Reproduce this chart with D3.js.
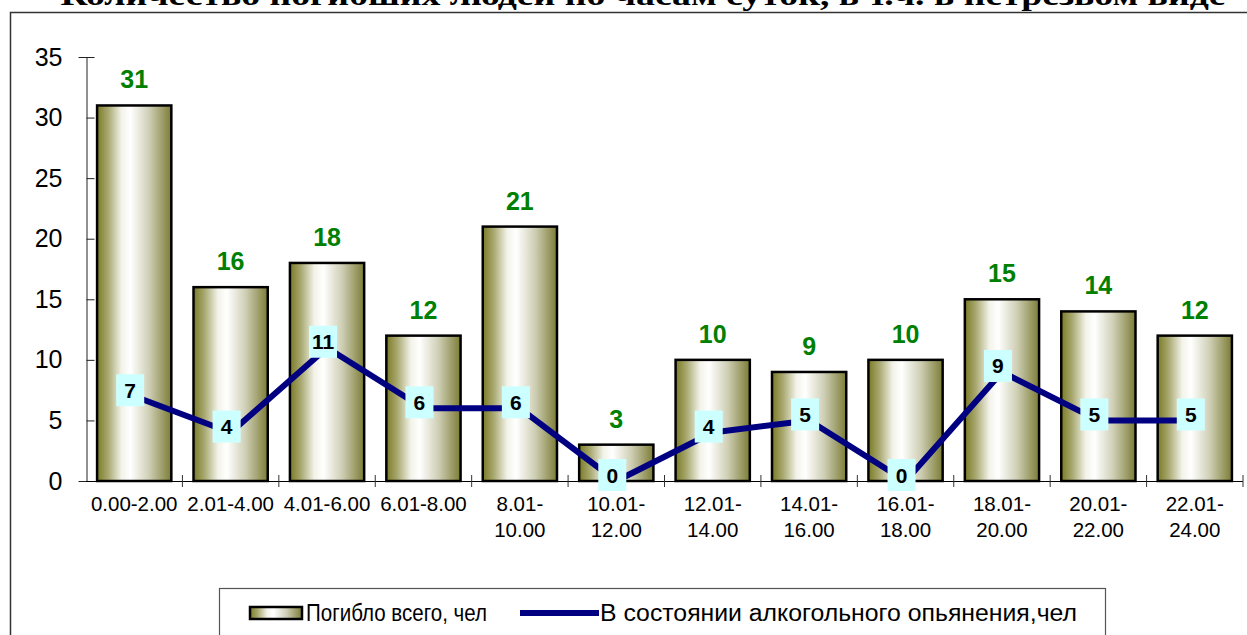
<!DOCTYPE html>
<html>
<head>
<meta charset="utf-8">
<script src="https://cdn.jsdelivr.net/npm/d3@7"></script>
<style>
  body { margin: 0; background: #fff; }
  svg { display: block; }
</style>
</head>
<body>
<svg id="chart" width="1247" height="635"></svg>
<script>
const periods = ["0.00-2.00", "2.01-4.00", "4.01-6.00", "6.01-8.00", "8.01-\n10.00", "10.01-\n12.00",
  "12.01-\n14.00", "14.01-\n16.00", "16.01-\n18.00", "18.01-\n20.00", "20.01-\n22.00", "22.01-\n24.00"];
const totalDead = [31, 16, 18, 12, 21, 3, 10, 9, 10, 15, 14, 12];
const drunkDead = [7, 4, 11, 6, 6, 0, 4, 5, 0, 9, 5, 5];
const yTicks = [0, 5, 10, 15, 20, 25, 30, 35];
const seriesNames = ["Погибло всего, чел", "В состоянии алкогольного опьянения,чел"];
const title = "Количество погибших людей по часам суток, в т.ч. в нетрезвом виде";

const svg = d3.select("#chart");

const defs = svg.append("defs");
const grad = defs.append("linearGradient").attr("id", "barGrad")
  .attr("x1", "0%").attr("x2", "100%").attr("y1", "0%").attr("y2", "0%");
[[0, "#7b7b26"], [0.15, "#a9a972"], [0.33, "#f3f3ea"], [0.45, "#ffffff"],
 [0.7, "#cfcfb6"], [1, "#7c7c36"]].forEach(s => {
  grad.append("stop").attr("offset", s[0]).attr("stop-color", s[1]);
});

// title, cut by the top edge like in the original
svg.append("text")
  .attr("x", 643).attr("y", 5)
  .attr("text-anchor", "middle")
  .attr("font-family", "Liberation Serif, Times New Roman, serif")
  .attr("font-weight", "bold")
  .attr("font-size", 30)
  .attr("textLength", 1165)
  .attr("lengthAdjust", "spacingAndGlyphs")
  .text(title);

// outer frame
svg.append("rect")
  .attr("x", 10.5).attr("y", 12.5).attr("width", 1260).attr("height", 700)
  .attr("fill", "none").attr("stroke", "#333").attr("stroke-width", 1.5);

const x = d3.scaleBand().domain(periods).range([86, 1243]).paddingInner(0.23).paddingOuter(0.115);
const y = d3.scaleLinear().domain([0, 35]).range([481, 57]);

// y axis
const yAxis = svg.append("g").attr("transform", "translate(86.5,0)")
  .call(d3.axisLeft(y).tickValues(yTicks).tickSize(8).tickPadding(16));
yAxis.select(".domain").attr("stroke", "#222");
yAxis.selectAll(".tick line").attr("x2", 8).attr("stroke", "#222");
yAxis.selectAll(".tick text")
  .attr("font-family", "Liberation Sans, Arial, sans-serif")
  .attr("font-size", 25).attr("fill", "#000");

// bars
svg.append("g").selectAll("rect")
  .data(totalDead)
  .join("rect")
  .attr("x", (d, i) => x(periods[i]))
  .attr("y", d => y(d))
  .attr("width", x.bandwidth())
  .attr("height", d => y(0) - y(d))
  .attr("fill", "url(#barGrad)")
  .attr("stroke", "#000")
  .attr("stroke-width", 2.5);

// x axis
svg.append("line")
  .attr("x1", 86).attr("x2", 1243).attr("y1", 481.5).attr("y2", 481.5)
  .attr("stroke", "#000");
const bounds = periods.map((p, i) => x.range()[0] + i * x.step()).concat([x.range()[1]]);
svg.append("g").selectAll("line")
  .data(bounds.slice(1))
  .join("line")
  .attr("x1", d => d).attr("x2", d => d)
  .attr("y1", 475).attr("y2", 487)
  .attr("stroke", "#333");

const xLabels = svg.append("g").selectAll("text")
  .data(periods)
  .join("text")
  .attr("x", d => x(d) + x.bandwidth() / 2)
  .attr("y", 511)
  .attr("text-anchor", "middle")
  .attr("font-family", "Liberation Sans, Arial, sans-serif")
  .attr("font-size", 20.5)
  .attr("fill", "#000");
xLabels.each(function (d) {
  const t = d3.select(this);
  d.split("\n").forEach((ln, k) => {
    t.append("tspan").attr("x", x(d) + x.bandwidth() / 2).attr("dy", k === 0 ? 0 : 26).text(ln);
  });
});

// bar value labels
svg.append("g").selectAll("text")
  .data(totalDead)
  .join("text")
  .attr("x", (d, i) => x(periods[i]) + x.bandwidth() / 2)
  .attr("y", d => y(d) - 17)
  .attr("text-anchor", "middle")
  .attr("font-family", "Liberation Sans, Arial, sans-serif")
  .attr("font-weight", "bold")
  .attr("font-size", 25)
  .attr("fill", "#008000")
  .text(d => d);

// line series
const line = d3.line()
  .x((d, i) => x(periods[i]) + x.bandwidth() / 2)
  .y(d => y(d));
svg.append("path")
  .datum(drunkDead)
  .attr("d", line)
  .attr("fill", "none")
  .attr("stroke", "#000080")
  .attr("stroke-width", 6)
  .attr("stroke-linejoin", "round");

const pts = svg.append("g").selectAll("g")
  .data(drunkDead)
  .join("g")
  .attr("transform", (d, i) => `translate(${x(periods[i]) + x.bandwidth() / 2 - 4},${y(d) - 6})`);
pts.append("rect")
  .attr("x", -14).attr("y", -16).attr("width", 28).attr("height", 32)
  .attr("fill", "#ccffff");
pts.append("text")
  .attr("text-anchor", "middle")
  .attr("y", 7.5)
  .attr("font-family", "Liberation Sans, Arial, sans-serif")
  .attr("font-weight", "bold")
  .attr("font-size", 21)
  .attr("fill", "#000")
  .text(d => d);

// legend
const legend = svg.append("g");
legend.append("rect")
  .attr("x", 219.5).attr("y", 588.5).attr("width", 886).attr("height", 80)
  .attr("fill", "#fff").attr("stroke", "#555").attr("stroke-width", 1.2);
legend.append("rect")
  .attr("x", 250).attr("y", 607).attr("width", 52).attr("height", 12)
  .attr("fill", "url(#barGrad)").attr("stroke", "#000").attr("stroke-width", 2.5);
legend.append("text")
  .attr("x", 306).attr("y", 621)
  .attr("font-family", "Liberation Sans, Arial, sans-serif")
  .attr("font-size", 23)
  .attr("textLength", 181)
  .attr("lengthAdjust", "spacingAndGlyphs")
  .text(seriesNames[0]);
legend.append("line")
  .attr("x1", 520).attr("x2", 599).attr("y1", 613).attr("y2", 613)
  .attr("stroke", "#000080").attr("stroke-width", 6);
legend.append("text")
  .attr("x", 600).attr("y", 621)
  .attr("font-family", "Liberation Sans, Arial, sans-serif")
  .attr("font-size", 23)
  .attr("textLength", 477)
  .attr("lengthAdjust", "spacingAndGlyphs")
  .text(seriesNames[1]);
</script>
</body>
</html>
